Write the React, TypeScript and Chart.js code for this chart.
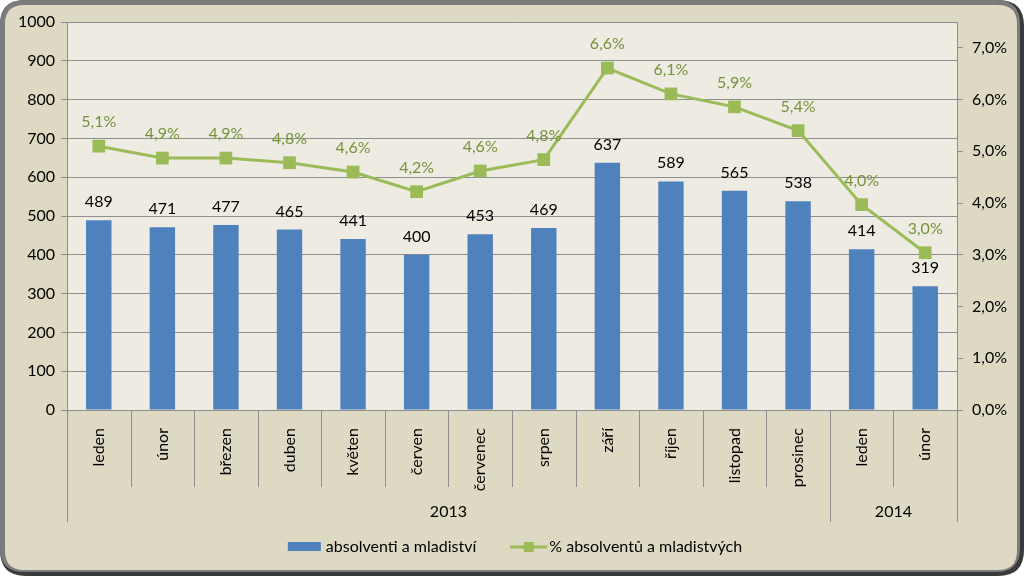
import React, { useEffect, useRef } from 'react';
import { Chart, registerables } from 'chart.js';

Chart.register(...registerables);

const months = ['leden', 'únor', 'březen', 'duben', 'květen', 'červen', 'červenec', 'srpen', 'září', 'říjen', 'listopad', 'prosinec', 'leden', 'únor'];
const years = ['2013', '2014'];
const yearSpans = [12, 2];
const absolventi = [489, 471, 477, 465, 441, 400, 453, 469, 637, 589, 565, 538, 414, 319];
const podil = [5.1, 4.87, 4.87, 4.78, 4.6, 4.22, 4.62, 4.84, 6.61, 6.11, 5.86, 5.4, 3.97, 3.04];
const seriesNames = ['absolventi a mladiství', '% absolventů a mladistvých'];
const leftTicks = { min: 0, max: 1000, step: 100 };
const rightTicks = { min: 0, max: 7.5, step: 1, lastLabel: 7 };

const FONT = 'Lato, "Open Sans", sans-serif';
const FS = 16;
const BAR = '#4F81BD';
const LINE = '#9BBB59';
const PCT = '#76923C';
const GRID = '#8e8e8e';
const fmtPct = (v: number) => v.toFixed(1).replace('.', ',') + '%';

function roundRect(ctx: CanvasRenderingContext2D, x: number, y: number, w: number, h: number, r: number) {
  ctx.beginPath();
  ctx.moveTo(x + r, y);
  ctx.lineTo(x + w - r, y);
  ctx.quadraticCurveTo(x + w, y, x + w, y + r);
  ctx.lineTo(x + w, y + h - r);
  ctx.quadraticCurveTo(x + w, y + h, x + w - r, y + h);
  ctx.lineTo(x + r, y + h);
  ctx.quadraticCurveTo(x, y + h, x, y + h - r);
  ctx.lineTo(x, y + r);
  ctx.quadraticCurveTo(x, y, x + r, y);
  ctx.closePath();
}

const framePlugin = {
  id: 'frame',
  beforeDraw(chart: any) {
    const { ctx, width, height, chartArea } = chart;
    ctx.save();
    ctx.fillStyle = '#ffffff';
    ctx.fillRect(0, 0, width, height);
    roundRect(ctx, 0, 0, width, height, 26);
    ctx.fillStyle = '#3a3a3a';
    ctx.fill();
    roundRect(ctx, 0, 0, width - 4, height - 4, 24);
    ctx.fillStyle = '#7c7c7c';
    ctx.fill();
    roundRect(ctx, 5, 5, width - 12, height - 11, 19);
    ctx.fillStyle = '#DDD9C3';
    ctx.fill();
    ctx.fillStyle = '#EEECE2';
    ctx.fillRect(chartArea.left, chartArea.top, chartArea.right - chartArea.left, chartArea.bottom - chartArea.top);
    ctx.restore();
  },
};

const decoPlugin = {
  id: 'deco',
  afterDatasetsDraw(chart: any) {
    const { ctx } = chart;
    ctx.save();
    ctx.font = `${FS}px ${FONT}`;
    ctx.textAlign = 'center';
    ctx.textBaseline = 'alphabetic';
    const barMeta = chart.getDatasetMeta(0);
    ctx.fillStyle = '#000000';
    barMeta.data.forEach((el: any, i: number) => {
      ctx.fillText(String(absolventi[i]), el.x, el.y - 13);
    });
    const lineMeta = chart.getDatasetMeta(1);
    ctx.fillStyle = PCT;
    lineMeta.data.forEach((el: any, i: number) => {
      ctx.fillText(fmtPct(podil[i]), el.x, el.y - 19);
    });
    ctx.restore();
  },
  afterDraw(chart: any) {
    const { ctx, chartArea } = chart;
    const xs = chart.scales.x;
    const n = months.length;
    const half = (xs.getPixelForValue(1) - xs.getPixelForValue(0)) / 2;
    const bounds: number[] = [];
    for (let i = 0; i <= n; i++) {
      bounds.push(i < n ? xs.getPixelForValue(i) - half : xs.getPixelForValue(n - 1) + half);
    }
    const yearBounds = new Set<number>([0]);
    let acc = 0;
    yearSpans.forEach((s) => { acc += s; yearBounds.add(acc); });
    ctx.save();
    ctx.strokeStyle = GRID;
    ctx.lineWidth = 1;
    const y0 = chartArea.bottom;
    bounds.forEach((bx, i) => {
      const px = Math.round(bx) + 0.5;
      ctx.beginPath();
      ctx.moveTo(px, y0);
      ctx.lineTo(px, y0 + (yearBounds.has(i) ? 112 : 77));
      ctx.stroke();
    });
    ctx.font = `${FS}px ${FONT}`;
    ctx.fillStyle = '#000000';
    ctx.textAlign = 'center';
    ctx.textBaseline = 'alphabetic';
    let start = 0;
    years.forEach((yr, k) => {
      const end = start + yearSpans[k];
      ctx.fillText(yr, (bounds[start] + bounds[end]) / 2, y0 + 107);
      start = end;
    });

    // legend
    const ly = 547;
    const t1 = ctx.measureText(seriesNames[0]).width;
    const t2 = ctx.measureText(seriesNames[1]).width;
    const total = 33 + 5 + t1 + 34 + 37 + 2 + t2;
    let lx = 515 - total / 2;
    ctx.fillStyle = BAR;
    ctx.fillRect(lx, ly - 5, 33, 9);
    lx += 38;
    ctx.fillStyle = '#000000';
    ctx.textAlign = 'left';
    ctx.textBaseline = 'middle';
    ctx.fillText(seriesNames[0], lx, ly);
    lx += t1 + 34;
    ctx.strokeStyle = LINE;
    ctx.lineWidth = 3;
    ctx.beginPath();
    ctx.moveTo(lx, ly);
    ctx.lineTo(lx + 37, ly);
    ctx.stroke();
    ctx.fillStyle = LINE;
    ctx.fillRect(lx + 18.5 - 5, ly - 5, 10, 10);
    lx += 39;
    ctx.fillStyle = '#000000';
    ctx.fillText(seriesNames[1], lx, ly);
    ctx.restore();
  },
};

export default function App() {
  const ref = useRef<HTMLCanvasElement>(null);
  useEffect(() => {
    if (!ref.current) return;
    const chart = new Chart(ref.current, {
      type: 'bar',
      data: {
        labels: months,
        datasets: [
          {
            type: 'bar',
            label: seriesNames[0],
            data: absolventi,
            backgroundColor: BAR,
            borderWidth: 0,
            barPercentage: 0.4,
            categoryPercentage: 1,
            yAxisID: 'y',
            order: 1,
          },
          {
            type: 'line',
            label: seriesNames[1],
            data: podil,
            borderColor: LINE,
            backgroundColor: LINE,
            borderWidth: 3,
            pointStyle: 'rect',
            pointRadius: 9,
            pointBorderWidth: 0,
            pointBackgroundColor: LINE,
            tension: 0,
            yAxisID: 'y1',
            order: 0,
          },
        ],
      },
      options: {
        responsive: false,
        animation: false,
        devicePixelRatio: 1,
        layout: { padding: { top: 22, bottom: 51, left: 0, right: 0 } },
        plugins: { legend: { display: false }, tooltip: { enabled: false } },
        scales: {
          x: {
            grid: { display: false },
            border: { display: true, color: GRID, width: 1 },
            ticks: {
              autoSkip: false,
              maxRotation: 90,
              minRotation: 90,
              padding: 10,
              color: '#000000',
              font: { family: FONT, size: FS },
            },
            afterFit: (s: any) => { s.height = 115; },
          },
          y: {
            position: 'left',
            min: leftTicks.min,
            max: leftTicks.max,
            ticks: {
              stepSize: leftTicks.step,
              padding: 6,
              color: '#000000',
              font: { family: FONT, size: FS },
              callback: (v: any) => String(v),
            },
            grid: { color: GRID, lineWidth: 1, tickLength: 6, drawTicks: true },
            border: { display: true, color: GRID, width: 1 },
            afterFit: (s: any) => { s.width = 67; },
          },
          y1: {
            position: 'right',
            min: rightTicks.min,
            max: rightTicks.max,
            ticks: {
              stepSize: rightTicks.step,
              padding: 9,
              color: '#000000',
              font: { family: FONT, size: FS },
              callback: (v: any) => fmtPct(Number(v)),
            },
            afterBuildTicks: (s: any) => { s.ticks = s.ticks.filter((t: any) => t.value <= rightTicks.lastLabel + 1e-6); },
            grid: { color: GRID, drawOnChartArea: false, tickLength: 6, drawTicks: true },
            border: { display: true, color: GRID, width: 1 },
            afterFit: (s: any) => { s.width = 67; },
          },
        },
      },
      plugins: [framePlugin, decoPlugin],
    });
    return () => chart.destroy();
  }, []);
  return (
    <div style={{ position: 'fixed', left: 0, top: 0, width: 1024, height: 576 }}>
      <canvas ref={ref} width={1024} height={576} style={{ width: 1024, height: 576, display: 'block' }} />
    </div>
  );
}
